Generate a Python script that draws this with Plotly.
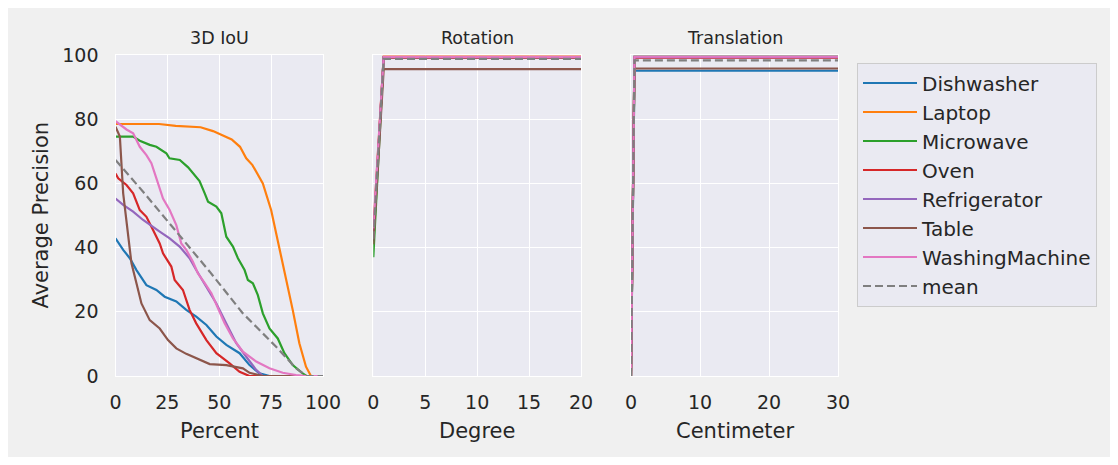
import plotly.graph_objects as go

# ---------------- data ----------------
classes = ["Dishwasher", "Laptop", "Microwave", "Oven", "Refrigerator", "Table", "WashingMachine"]
colors = ["#1f77b4", "#ff7f0e", "#2ca02c", "#d62728", "#9467bd", "#8c564b", "#e377c2"]
mean_color = "#7f7f7f"

# 3D IoU (x = Percent threshold, y = AP)
iou_x_dishwasher = [0, 3.7, 6.9, 10.1, 14.9, 19.7, 23.7, 29.3, 34.1, 38.9, 43.8, 48.6, 53.4, 59.8, 64.6, 69.4, 74.2, 100]
iou_y_dishwasher = [42.9, 39.3, 36.7, 33.0, 28.3, 26.8, 24.7, 23.2, 20.6, 18.5, 15.9, 12.3, 9.7, 7.1, 3.4, 0.8, 0.0, 0.0]

iou_x_laptop = [0, 10, 21, 29, 41, 47, 52, 56, 60, 63, 66, 71, 75, 78.2, 82.2, 85.4, 88.6, 91.8, 94.2, 100]
iou_y_laptop = [78.5, 78.5, 78.5, 77.9, 77.5, 76.3, 74.8, 73.7, 71.4, 67.8, 65.7, 60.0, 51.7, 42.4, 30.9, 20.6, 10.2, 2.9, 0.0, 0.0]

iou_x_microwave = [0, 8.5, 11.7, 16.5, 19.7, 24.5, 26, 31, 35, 38, 40.5, 43, 44.6, 48.6, 51, 53.4, 56.6, 59, 62.2, 63.8, 66.2, 68.6, 71, 74.2, 78.2, 81.4, 85.4, 90.2, 92, 100]
iou_y_microwave = [74.6, 74.6, 73.3, 72.0, 71.4, 69.4, 67.8, 67.3, 65.0, 62.6, 60.7, 56.9, 54.3, 52.8, 50.7, 43.4, 40.3, 36.7, 33.0, 29.9, 28.9, 25.2, 19.5, 14.8, 11.7, 7.1, 3.4, 0.8, 0.0, 0.0]

iou_x_oven = [0, 1.3, 5.3, 8.5, 11.7, 14.9, 18.1, 21.3, 22.9, 26.9, 28.5, 32.5, 35.7, 38.9, 43.8, 48.6, 55, 59.8, 64.6, 100]
iou_y_oven = [63.1, 61.6, 59.5, 56.9, 51.7, 49.6, 45.5, 41.3, 38.2, 34.1, 29.9, 26.8, 20.6, 16.4, 11.2, 7.1, 3.9, 1.3, 0.0, 0.0]

iou_x_refrigerator = [0, 3.7, 8.5, 13.3, 21.3, 26.1, 30.9, 35.7, 38.9, 43.8, 48.6, 52.6, 58.2, 63, 67.8, 71, 100]
iou_y_refrigerator = [55.3, 53.3, 51.2, 48.6, 45.0, 42.9, 40.3, 36.7, 33.0, 27.8, 22.6, 17.4, 10.2, 6.0, 1.9, 0.0, 0.0]

iou_x_table = [0, 2.1, 3.7, 5.3, 7.7, 10.1, 12.5, 16.5, 21.3, 25.3, 29.3, 34.1, 38.9, 45.4, 53.4, 61.4, 64.6, 71, 100]
iou_y_table = [77.7, 74.6, 56.9, 48.6, 35.1, 28.9, 22.6, 17.4, 14.8, 11.2, 8.6, 6.9, 5.5, 3.7, 3.4, 2.4, 1.0, 0.0, 0.0]

iou_x_washing = [0, 5.3, 8.5, 11.7, 14.9, 17.3, 20.5, 22.9, 26.1, 29.3, 31.7, 34.1, 37.3, 39.7, 43, 46.2, 49.4, 52.6, 56.6, 61.4, 67.8, 74.2, 80.6, 87, 92, 100]
iou_y_washing = [79.4, 76.8, 75.6, 71.4, 68.8, 66.3, 60.0, 55.3, 51.7, 47.0, 41.3, 39.3, 35.6, 32.0, 28.9, 25.8, 21.1, 16.4, 11.7, 7.6, 4.5, 2.4, 1.0, 0.3, 0.0, 0.0]

iou_x_mean = [0, 13.3, 29.3, 45.4, 61.4, 77.4, 87, 92, 100]
iou_y_mean = [67.3, 57.4, 45.0, 32.5, 19.5, 9.1, 2.4, 0.0, 0.0]

# Rotation (x = Degree threshold)
rot_x = [0, 1, 20]
rot_y_dishwasher = [42, 99.3, 99.3]
rot_y_laptop = [45, 99.5, 99.5]
rot_y_microwave = [37, 99.3, 99.3]
rot_y_oven = [44, 99.2, 99.2]
rot_y_refrigerator = [43, 99.3, 99.3]
rot_y_table = [41, 95.6, 95.6]
rot_y_washing = [46, 99.4, 99.4]
rot_y_mean = [42.6, 98.8, 98.8]

# Translation (x = Centimeter threshold)
trans_x = [0, 0.5, 30]
trans_y_dishwasher = [0, 95.1, 95.1]
trans_y_laptop = [0, 99.3, 99.3]
trans_y_microwave = [0, 99.5, 99.5]
trans_y_oven = [0, 99.2, 99.2]
trans_y_refrigerator = [0, 99.3, 99.3]
trans_y_table = [0, 95.8, 95.8]
trans_y_washing = [0, 99.5, 99.5]
trans_y_mean = [0, 98.3, 98.3]

iou_series = [
    (iou_x_dishwasher, iou_y_dishwasher), (iou_x_laptop, iou_y_laptop),
    (iou_x_microwave, iou_y_microwave), (iou_x_oven, iou_y_oven),
    (iou_x_refrigerator, iou_y_refrigerator), (iou_x_table, iou_y_table),
    (iou_x_washing, iou_y_washing),
]
rot_series = [rot_y_dishwasher, rot_y_laptop, rot_y_microwave, rot_y_oven,
              rot_y_refrigerator, rot_y_table, rot_y_washing]
trans_series = [trans_y_dishwasher, trans_y_laptop, trans_y_microwave, trans_y_oven,
                trans_y_refrigerator, trans_y_table, trans_y_washing]

panel_titles = ["3D IoU", "Rotation", "Translation"]
x_titles = ["Percent", "Degree", "Centimeter"]
y_title = "Average Precision"
x_ranges = [[0, 100], [0, 20], [0, 30]]
x_ticks = [[0, 25, 50, 75, 100], [0, 5, 10, 15, 20], [0, 10, 20, 30]]
y_ticks = [0, 20, 40, 60, 80, 100]

# ---------------- figure ----------------
W, H = 1102, 449          # page shows figure offset by 8px body margin
OFF = 8
FONT = "DejaVu Sans"
TXT = "#262626"
LW = 2.2
DASH = "8px,4px"


def fx(px):
    return (px - OFF) / W


def fy(py):
    return 1 - (py - OFF) / H


fig = go.Figure()
for i, name in enumerate(classes):
    fig.add_trace(go.Scatter(x=iou_series[i][0], y=iou_series[i][1], mode="lines", name=name,
                             line=dict(color=colors[i], width=LW), xaxis="x", yaxis="y",
                             showlegend=True))
fig.add_trace(go.Scatter(x=iou_x_mean, y=iou_y_mean, mode="lines", name="mean",
                         line=dict(color=mean_color, width=LW, dash=DASH), xaxis="x", yaxis="y",
                         showlegend=True))
for i, name in enumerate(classes):
    fig.add_trace(go.Scatter(x=rot_x, y=rot_series[i], mode="lines", name=name,
                             line=dict(color=colors[i], width=LW), xaxis="x2", yaxis="y2",
                             showlegend=False))
fig.add_trace(go.Scatter(x=rot_x, y=rot_y_mean, mode="lines", name="mean",
                         line=dict(color=mean_color, width=LW, dash=DASH), xaxis="x2", yaxis="y2",
                         showlegend=False))
for i, name in enumerate(classes):
    fig.add_trace(go.Scatter(x=trans_x, y=trans_series[i], mode="lines", name=name,
                             line=dict(color=colors[i], width=LW), xaxis="x3", yaxis="y3",
                             showlegend=False))
fig.add_trace(go.Scatter(x=trans_x, y=trans_y_mean, mode="lines", name="mean",
                         line=dict(color=mean_color, width=LW, dash=DASH), xaxis="x3", yaxis="y3",
                         showlegend=False))

px_dom = [(115.5, 323), (373.3, 581), (631, 838)]
y_top, y_bot = 55, 376
ydom = [fy(y_bot), fy(y_top)]

axis_common = dict(showgrid=True, gridcolor="white", gridwidth=1.4, zeroline=False,
                   showline=True, linecolor="white", linewidth=1.4, mirror=True,
                   ticks="", automargin=False,
                   tickfont=dict(family=FONT, size=19, color=TXT))

layout = dict(width=W, height=H, autosize=False, margin=dict(l=0, r=0, t=0, b=0, pad=0),
              paper_bgcolor="#f0f0f0", plot_bgcolor="#eaeaf2",
              font=dict(family=FONT, color=TXT), showlegend=True)
for k in range(3):
    sx = "" if k == 0 else str(k + 1)
    d0, d1 = px_dom[k]
    layout["xaxis" + sx] = dict(axis_common, domain=[fx(d0), fx(d1)], range=x_ranges[k],
                                tickvals=x_ticks[k], anchor="y" + sx, ticklabelstandoff=9)
    ya = dict(axis_common, domain=ydom, range=[0, 100], tickvals=y_ticks, anchor="x" + sx)
    if k == 0:
        ya.update(ticklabelstandoff=12)
    else:
        ya.update(showticklabels=False, matches="y")
    layout["yaxis" + sx] = ya

layout["legend"] = dict(x=fx(857), y=fy(62.5), xanchor="left", yanchor="top",
                        bgcolor="#eaeaf2", bordercolor="#cccccc", borderwidth=1,
                        itemwidth=54, tracegroupgap=0,
                        font=dict(family=FONT, size=20, color=TXT))

annotations = []
for k in range(3):
    d0, d1 = px_dom[k]
    annotations.append(dict(text=panel_titles[k], x=fx((d0 + d1) / 2), y=fy(38), xref="paper", yref="paper",
                            xanchor="center", yanchor="middle", showarrow=False,
                            font=dict(family=FONT, size=17.5, color=TXT)))
    annotations.append(dict(text=x_titles[k], x=fx((d0 + d1) / 2), y=fy(431), xref="paper", yref="paper",
                            xanchor="center", yanchor="middle", showarrow=False,
                            font=dict(family=FONT, size=21, color=TXT)))
annotations.append(dict(text=y_title, x=fx(40), y=fy(215.5), xref="paper", yref="paper",
                        xanchor="center", yanchor="middle", showarrow=False, textangle=-90,
                        font=dict(family=FONT, size=21, color=TXT)))
layout["annotations"] = annotations
fig.update_layout(**layout)

fig.write_html("out.html")
